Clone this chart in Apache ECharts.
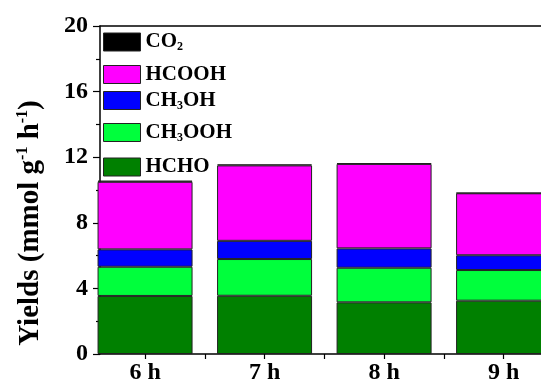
<!DOCTYPE html>
<html>
<head>
<meta charset="utf-8">
<script src="https://cdn.jsdelivr.net/npm/echarts@6/dist/echarts.min.js"></script>
<style>html,body{margin:0;padding:0;background:#fff}#c{width:541px;height:388px}</style>
</head>
<body>
<div id="c"></div>
<script>
// ---- data ----
var hours = [6, 7, 8, 9];
var HCHO   = [3.54, 3.55, 3.15, 3.25];
var CH3OOH = [1.78, 2.24, 2.11, 1.87];
var CH3OH  = [1.06, 1.11, 1.18, 0.90];
var HCOOH  = [4.12, 4.60, 5.15, 3.78];
var CO2    = [0.07, 0.06, 0.05, 0.03];
var yTicks = [0, 4, 8, 12, 16, 20];

var FONT = '"Liberation Serif", "Times New Roman", serif';
var seriesDefs = [
  {name: 'HCHO', data: HCHO, color: '#008000', label: '{n|HCHO}'},
  {name: 'CH3OOH', data: CH3OOH, color: '#00FF3C', label: '{n|CH}{s|3}{n|OOH}'},
  {name: 'CH3OH', data: CH3OH, color: '#0000FF', label: '{n|CH}{s|3}{n|OH}'},
  {name: 'HCOOH', data: HCOOH, color: '#FF00FF', label: '{n|HCOOH}'},
  {name: 'CO2', data: CO2, color: '#000000', label: '{n|CO}{s|2}'}
];
var labelMap = {};
seriesDefs.forEach(function (d) { labelMap[d.name] = d.label; });

var legendTops = {CO2: 31.5, HCOOH: 64, CH3OH: 90, CH3OOH: 122, HCHO: 156.5};
var legends = ['CO2', 'HCOOH', 'CH3OH', 'CH3OOH', 'HCHO'].map(function (n) {
  return {
    data: [n], left: 103, top: legendTops[n], padding: 0,
    itemWidth: 37, itemHeight: 18, icon: 'rect', selectedMode: false,
    itemStyle: {borderColor: '#222', borderWidth: 1},
    formatter: function (name) { return labelMap[name]; },
    textStyle: {
      rich: {
        n: {fontFamily: FONT, fontWeight: 'bold', fontSize: 21, color: '#000', lineHeight: 22},
        s: {fontFamily: FONT, fontWeight: 'bold', fontSize: 12, color: '#000', lineHeight: 12, verticalAlign: 'bottom'}
      }
    }
  };
});

var X_MIN = 5.623, X_MAX = 9.313;
var chart = echarts.init(document.getElementById('c'));
chart.setOption({
  animation: false,
  backgroundColor: '#fff',
  grid: {left: 100, top: 26, bottom: 34, right: 0},
  legend: legends,
  xAxis: [{
    type: 'value', min: X_MIN, max: X_MAX,
    splitLine: {show: false},
    axisLine: {lineStyle: {color: '#000', width: 1.5}},
    axisTick: {show: true, inside: false, length: 5, lineStyle: {color: '#000', width: 1.2}, customValues: [6, 6.5, 7, 7.5, 8, 8.5, 9]},
    axisLabel: {customValues: hours, formatter: function (v) { return v + ' h'; }, fontFamily: FONT, fontWeight: 'bold', fontSize: 24, color: '#000', margin: 7}
  }, {
    type: 'value', min: X_MIN, max: X_MAX, position: 'top',
    splitLine: {show: false},
    axisLine: {show: true, lineStyle: {color: '#000', width: 1.5}},
    axisTick: {show: false}, axisLabel: {show: false}
  }],
  yAxis: {
    type: 'value', min: yTicks[0], max: yTicks[yTicks.length - 1], interval: 4,
    splitLine: {show: false},
    axisLine: {show: true, lineStyle: {color: '#000', width: 1.5}},
    axisTick: {show: true, inside: false, length: 7, lineStyle: {color: '#000', width: 1.2}},
    minorTick: {show: true, splitNumber: 2, length: 4, lineStyle: {color: '#000', width: 1.2}},
    axisLabel: {fontFamily: FONT, fontWeight: 'bold', fontSize: 24, color: '#000', margin: 12},
    name: '{n|Yields (mmol g}{p|-1}{n| h}{p|-1}{n|)}',
    nameLocation: 'middle', nameGap: 53, nameRotate: 90,
    nameTextStyle: {
      padding: [0, 66, 0, 0],
      rich: {
        n: {fontFamily: FONT, fontWeight: 'bold', fontSize: 29, color: '#000', lineHeight: 32},
        p: {fontFamily: FONT, fontWeight: 'bold', fontSize: 16, color: '#000', lineHeight: 16, verticalAlign: 'top'}
      }
    }
  },
  series: seriesDefs.map(function (d) {
    return {
      type: 'bar', name: d.name, stack: 'total', barWidth: 95, clip: true,
      xAxisIndex: 0, encode: {x: 1, y: 0},
      itemStyle: {color: d.color, borderColor: '#222', borderWidth: 1},
      data: d.data.map(function (v, i) { return [v, hours[i]]; })
    };
  })
});
</script>
</body>
</html>
